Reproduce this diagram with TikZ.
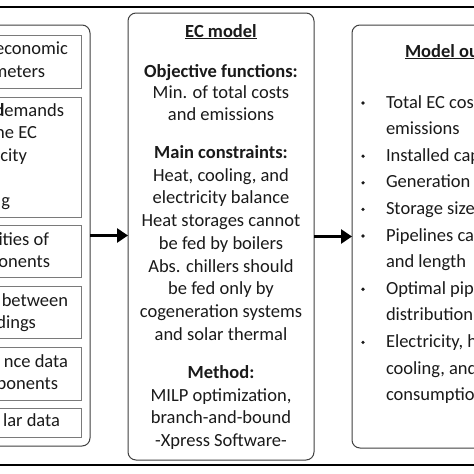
\documentclass[tikz,border=0pt]{standalone}
\usepackage{fontspec}
\setmainfont{Carlito}
\usetikzlibrary{arrows.meta}
\definecolor{inboxc}{HTML}{7A7A7A}
\definecolor{grpc}{HTML}{404040}
\definecolor{txtc}{HTML}{1A1A1A}
\begin{document}
\begin{tikzpicture}[x=1pt,y=-1pt,
  every node/.style={inner sep=0pt, outer sep=0pt, text=txtc, font=\fontsize{18.5}{22.7}\selectfont},
  inbox/.style={draw=inboxc, line width=1pt},
  grpbox/.style={draw=grpc, line width=1pt, rounded corners=8pt},
  txt/.style={anchor=base},
  ltxt/.style={anchor=base east},
  rtxt/.style={anchor=base west},
  flow/.style={line width=3pt, -{Triangle[length=11pt,width=14pt]}},
  bul/.style={fill=txtc, circle, minimum size=3.6pt},
  frameline/.style={draw=black}
]
\useasboundingbox (0,0) rectangle (474,474);
\clip (0,0) rectangle (474,474);
\fill[white] (0,0) rectangle (474,474);

% frame lines
\draw[frameline, line width=1.5pt] (-5,7) -- (480,7);
\draw[frameline, line width=2pt] (-5,465) -- (480,465);

% left group
\node[grpbox, minimum width=110pt, minimum height=421pt] (left) at (35,235.5) {};
\node[inbox, minimum width=91pt, minimum height=53pt] (b1) at (35.5,61.5) {};
\node[inbox, minimum width=91pt, minimum height=120pt] (b2) at (35.5,157) {};
\node[inbox, minimum width=91pt, minimum height=52pt] (b3) at (35.5,251) {};
\node[inbox, minimum width=91pt, minimum height=52pt] (b4) at (35.5,312) {};
\node[inbox, minimum width=91pt, minimum height=53pt] (b5) at (35.5,373.5) {};
\node[inbox, minimum width=91pt, minimum height=29pt] (b6) at (35.5,422.5) {};

\node[ltxt] (l1a) at (68,54.5) {economic};
\node[ltxt] (l1b) at (45,77) {meters};
\node[ltxt] (l2a) at (64,116) {\textbf{d}emands};
\node[ltxt] (l2b) at (37,138.5) {he EC};
\node[ltxt] (l2c) at (27,161) {city};
\node[ltxt] (l2d) at (10,206) {g};
\node[ltxt] (l3a) at (49,245.5) {\textbf{i}ties of};
\node[ltxt] (l3b) at (50,267.5) {onents};
\node[ltxt] (l4a) at (68,306) {between};
\node[ltxt] (l4b) at (36,328) {dings};
\node[ltxt] (l5a) at (68,367.5) {nce data};
\node[ltxt] (l5b) at (58,389) {ponents};
\node[ltxt] (l6a) at (60,426.5) {lar data};

% middle box
\node[grpbox, minimum width=186pt, minimum height=447pt] (mid) at (221,236.5) {};
\node[txt] (m0) at (221,37) {\textbf{\underline{EC model}}};
\node[txt] (m1) at (221,77) {\textbf{Objective functions:}};
\node[txt] (m2) at (221,98.5) {Min. of total costs};
\node[txt] (m3) at (221,120.5) {and emissions};
\node[txt] (m4) at (221,158.5) {\textbf{Main constraints:}};
\node[txt] (m5) at (221,181.2) {Heat, cooling, and};
\node[txt] (m6) at (221,203.9) {electricity balance};
\node[txt] (m7) at (221,226.6) {Heat storages cannot};
\node[txt] (m8) at (221,249.3) {be fed by boilers};
\node[txt] (m9) at (221,272) {Abs. chillers should};
\node[txt] (m10) at (221,294.7) {be fed only by};
\node[txt] (m11) at (221,317.4) {cogeneration systems};
\node[txt] (m12) at (221,340.1) {and solar thermal};
\node[txt] (m13) at (221,378.5) {\textbf{Method:}};
\node[txt] (m14) at (221,401.2) {MILP optimization,};
\node[txt] (m15) at (221,423.9) {branch-and-bound};
\node[txt] (m16) at (221,446.6) {-Xpress Software-};

% right box
\node[grpbox, minimum width=148pt, minimum height=423pt] (right) at (426,236.5) {};
\node[rtxt] (r0) at (405,57) {\textbf{\underline{Model ou}}};
\node[rtxt] (r1) at (386,108) {Total EC cos};
\node[rtxt] (r2) at (386,134.6) {emissions};
\node[rtxt] (r3) at (386,161.2) {Installed cap};
\node[rtxt] (r4) at (386,187.8) {Generation};
\node[rtxt] (r5) at (386,214.4) {Storage size};
\node[rtxt] (r6) at (386,241) {Pipelines ca};
\node[rtxt] (r7) at (386,267.6) {and length};
\node[rtxt] (r8) at (386,294.2) {Optimal pip};
\node[rtxt] (r9) at (386,320.8) {distribution};
\node[rtxt] (r10) at (386,347.4) {Electricity, h};
\node[rtxt] (r11) at (386,374) {cooling, and};
\node[rtxt] (r12) at (386,400.6) {consumptio};
\node[bul] (u1) at (363,103) {};
\node[bul] (u3) at (363,156.2) {};
\node[bul] (u4) at (363,182.8) {};
\node[bul] (u5) at (363,209.4) {};
\node[bul] (u6) at (363,236) {};
\node[bul] (u8) at (363,289.2) {};
\node[bul] (u10) at (363,342.4) {};

% arrows
\draw[flow] (left.east) -- (left.east -| mid.west);
\draw[flow] (mid.east) -- (right.west);
\end{tikzpicture}
\end{document}
